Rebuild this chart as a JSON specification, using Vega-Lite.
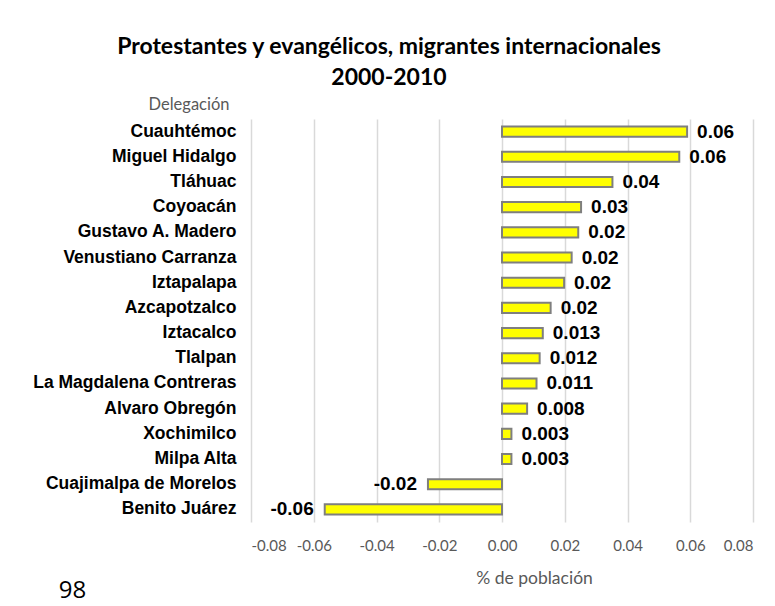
{
  "$schema": "https://vega.github.io/schema/vega-lite/v6.json",
  "autosize": "none",
  "padding": {"left": 251, "top": 119, "right": 22, "bottom": 84},
  "width": 502,
  "height": 403,
  "background": "white",
  "config": {"view": {"stroke": null}},
  "title": {
    "text": ["Protestantes y evangélicos, migrantes internacionales", "2000-2010"],
    "font": "Lato",
    "fontSize": 23,
    "fontWeight": "bold",
    "color": "#000000",
    "anchor": "middle",
    "frame": "group",
    "dx": -113,
    "offset": 6,
    "lineHeight": 31
  },
  "data": {
    "values": [
      {"delegacion": "Cuauhtémoc", "valor": 0.059, "etiqueta": "0.06"},
      {"delegacion": "Miguel Hidalgo", "valor": 0.0565, "etiqueta": "0.06"},
      {"delegacion": "Tláhuac", "valor": 0.0352, "etiqueta": "0.04"},
      {"delegacion": "Coyoacán", "valor": 0.0252, "etiqueta": "0.03"},
      {"delegacion": "Gustavo A. Madero", "valor": 0.0243, "etiqueta": "0.02"},
      {"delegacion": "Venustiano Carranza", "valor": 0.0222, "etiqueta": "0.02"},
      {"delegacion": "Iztapalapa", "valor": 0.0198, "etiqueta": "0.02"},
      {"delegacion": "Azcapotzalco", "valor": 0.0155, "etiqueta": "0.02"},
      {"delegacion": "Iztacalco", "valor": 0.013, "etiqueta": "0.013"},
      {"delegacion": "Tlalpan", "valor": 0.012, "etiqueta": "0.012"},
      {"delegacion": "La Magdalena Contreras", "valor": 0.011, "etiqueta": "0.011"},
      {"delegacion": "Alvaro Obregón", "valor": 0.008, "etiqueta": "0.008"},
      {"delegacion": "Xochimilco", "valor": 0.003, "etiqueta": "0.003"},
      {"delegacion": "Milpa Alta", "valor": 0.003, "etiqueta": "0.003"},
      {"delegacion": "Cuajimalpa de Morelos", "valor": -0.0236, "etiqueta": "-0.02"},
      {"delegacion": "Benito Juárez", "valor": -0.0565, "etiqueta": "-0.06"}
    ]
  },
  "encoding": {
    "y": {
      "field": "delegacion",
      "type": "nominal",
      "sort": null,
      "scale": {"paddingInner": 0.6, "paddingOuter": 0.3},
      "axis": {
        "title": "Delegación",
        "titleAngle": 0,
        "titleAlign": "right",
        "titleBaseline": "middle",
        "titleX": -22,
        "titleY": -15,
        "titleFont": "Lato",
        "titleFontSize": 16.5,
        "titleFontWeight": "normal",
        "titleColor": "#595959",
        "labelFont": "Liberation Sans",
        "labelFontSize": 17.5,
        "labelFontWeight": "bold",
        "labelColor": "#000000",
        "labelPadding": 15,
        "labelLimit": 300,
        "ticks": false,
        "domain": false,
        "grid": false
      }
    }
  },
  "layer": [
    {
      "mark": {"type": "bar", "fill": "#ffff00", "stroke": "#7f7f7f", "strokeWidth": 2},
      "encoding": {
        "x": {
          "field": "valor",
          "type": "quantitative",
          "scale": {"domain": [-0.08, 0.08], "nice": false, "zero": false},
          "axis": {
            "orient": "bottom",
            "values": [-0.08, -0.06, -0.04, -0.02, 0, 0.02, 0.04, 0.06, 0.08],
            "labelExpr": "replace(format(datum.value, '.2f'), '\u2212', '-')",
            "title": "% de población",
            "titleFont": "Lato",
            "titleFontSize": 17.5,
            "titleFontWeight": "normal",
            "titleColor": "#595959",
            "titleX": 283,
            "titleY": 56,
            "titleAlign": "center",
            "titleBaseline": "middle",
            "labelFont": "Lato",
            "labelFontSize": 15,
            "labelColor": "#595959",
            "labelPadding": 16,
            "ticks": false,
            "domain": false,
            "grid": true,
            "gridColor": "#d9d9d9",
            "gridWidth": 1.5
          }
        }
      }
    },
    {
      "transform": [{"filter": "datum.valor >= 0"}],
      "mark": {"type": "text", "align": "left", "baseline": "middle", "dx": 10, "font": "Liberation Sans", "fontSize": 19, "fontWeight": "bold", "color": "#000000"},
      "encoding": {
        "x": {
          "field": "valor",
          "type": "quantitative",
          "axis": {
            "orient": "bottom",
            "title": "98",
            "titleFont": "Open Sans",
            "titleFontSize": 24,
            "titleFontWeight": "normal",
            "titleColor": "#000000",
            "titleX": -179,
            "titleY": 68,
            "titleAlign": "center",
            "titleBaseline": "middle",
            "labels": false,
            "ticks": false,
            "domain": false,
            "grid": false
          }
        },
        "text": {"field": "etiqueta"}
      }
    },
    {
      "transform": [{"filter": "datum.valor < 0"}],
      "mark": {"type": "text", "align": "right", "baseline": "middle", "dx": -11, "font": "Liberation Sans", "fontSize": 19, "fontWeight": "bold", "color": "#000000"},
      "encoding": {
        "x": {"field": "valor", "type": "quantitative", "axis": null},
        "text": {"field": "etiqueta"}
      }
    }
  ],
  "resolve": {"axis": {"x": "independent"}}
}
